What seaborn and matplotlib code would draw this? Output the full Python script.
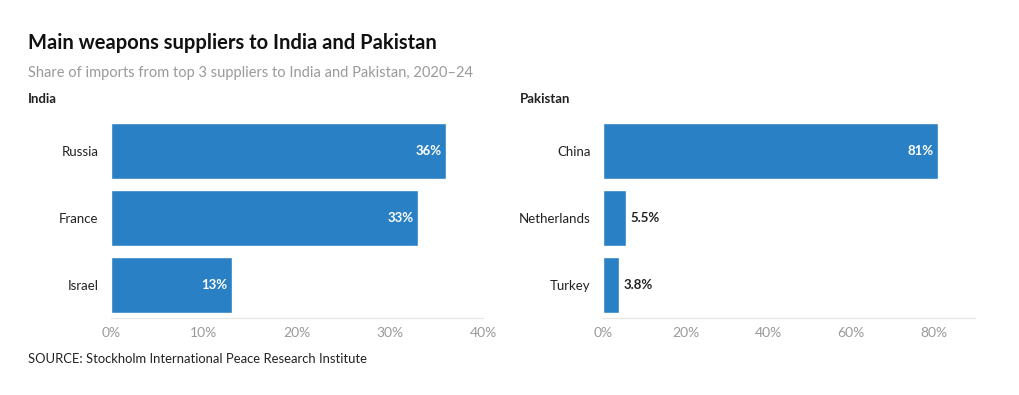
import matplotlib
matplotlib.use("Agg")
import matplotlib.pyplot as plt
import matplotlib.ticker as mtick
import pandas as pd
import seaborn as sns

# Data
india_suppliers = ["Russia", "France", "Israel"]
india_share = [36, 33, 13]
india_labels = ["36%", "33%", "13%"]

pakistan_suppliers = ["China", "Netherlands", "Turkey"]
pakistan_share = [81, 5.5, 3.8]
pakistan_labels = ["81%", "5.5%", "3.8%"]

india_ticks = [0, 10, 20, 30, 40]
pakistan_ticks = [0, 20, 40, 60, 80]

sns.set_theme(style="white")
plt.rcParams["font.family"] = ["Lato", "DejaVu Sans"]

BLUE = "#2a80c4"
DARK = "#222222"
GREY = "#9a9a9a"

fig = plt.figure(figsize=(10.2, 3.95), dpi=100)
ax1 = fig.add_axes([0.1088, 0.1937, 0.3647, 0.5089])
ax2 = fig.add_axes([0.5912, 0.1937, 0.3647, 0.5089])


def draw_panel(ax, cats, vals, labels, ticks, xmax, inside_min):
    df = pd.DataFrame({"supplier": cats, "share": vals})
    sns.barplot(data=df, y="supplier", x="share", ax=ax, color=BLUE,
                saturation=1, width=0.84, orient="h")
    ax.set_xlim(0, xmax)
    ax.set_xticks(ticks)
    ax.xaxis.set_major_formatter(mtick.FuncFormatter(lambda v, p: f"{v:.0f}%"))
    ax.set_xlabel("")
    ax.set_ylabel("")
    for s in ["top", "right", "left"]:
        ax.spines[s].set_visible(False)
    ax.spines["bottom"].set_color("#e6e6e6")
    ax.spines["bottom"].set_linewidth(0.8)
    ax.tick_params(axis="x", colors=GREY, labelsize=10, length=0, pad=6)
    ax.tick_params(axis="y", colors=DARK, labelsize=9.5, length=0, pad=9)
    for lab in ax.get_xticklabels():
        lab.set_color(GREY)
    for i, (v, t) in enumerate(zip(vals, labels)):
        if v >= inside_min:
            ax.text(v - xmax * 0.012, i, t, ha="right", va="center",
                    color="white", fontsize=9.5, fontweight="bold")
        else:
            ax.text(v + xmax * 0.012, i, t, ha="left", va="center",
                    color=DARK, fontsize=9.5, fontweight="bold")


draw_panel(ax1, india_suppliers, india_share, india_labels, india_ticks, 40, 10)
draw_panel(ax2, pakistan_suppliers, pakistan_share, pakistan_labels, pakistan_ticks, 90, 10)

fig.text(0.0275, 0.877, "Main weapons suppliers to India and Pakistan",
         fontsize=14.5, fontweight="bold", color="#111111", va="baseline")
fig.text(0.0275, 0.805, "Share of imports from top 3 suppliers to India and Pakistan, 2020\u201324",
         fontsize=10.5, color=GREY, va="baseline")
fig.text(0.0275, 0.739, "India", fontsize=9.5, fontweight="bold", color=DARK, va="baseline")
fig.text(0.5098, 0.739, "Pakistan", fontsize=9.5, fontweight="bold", color=DARK, va="baseline")
fig.text(0.0275, 0.082, "SOURCE: Stockholm International Peace Research Institute",
         fontsize=9.4, color=DARK, va="baseline")

fig.savefig("out.png", dpi=100)
